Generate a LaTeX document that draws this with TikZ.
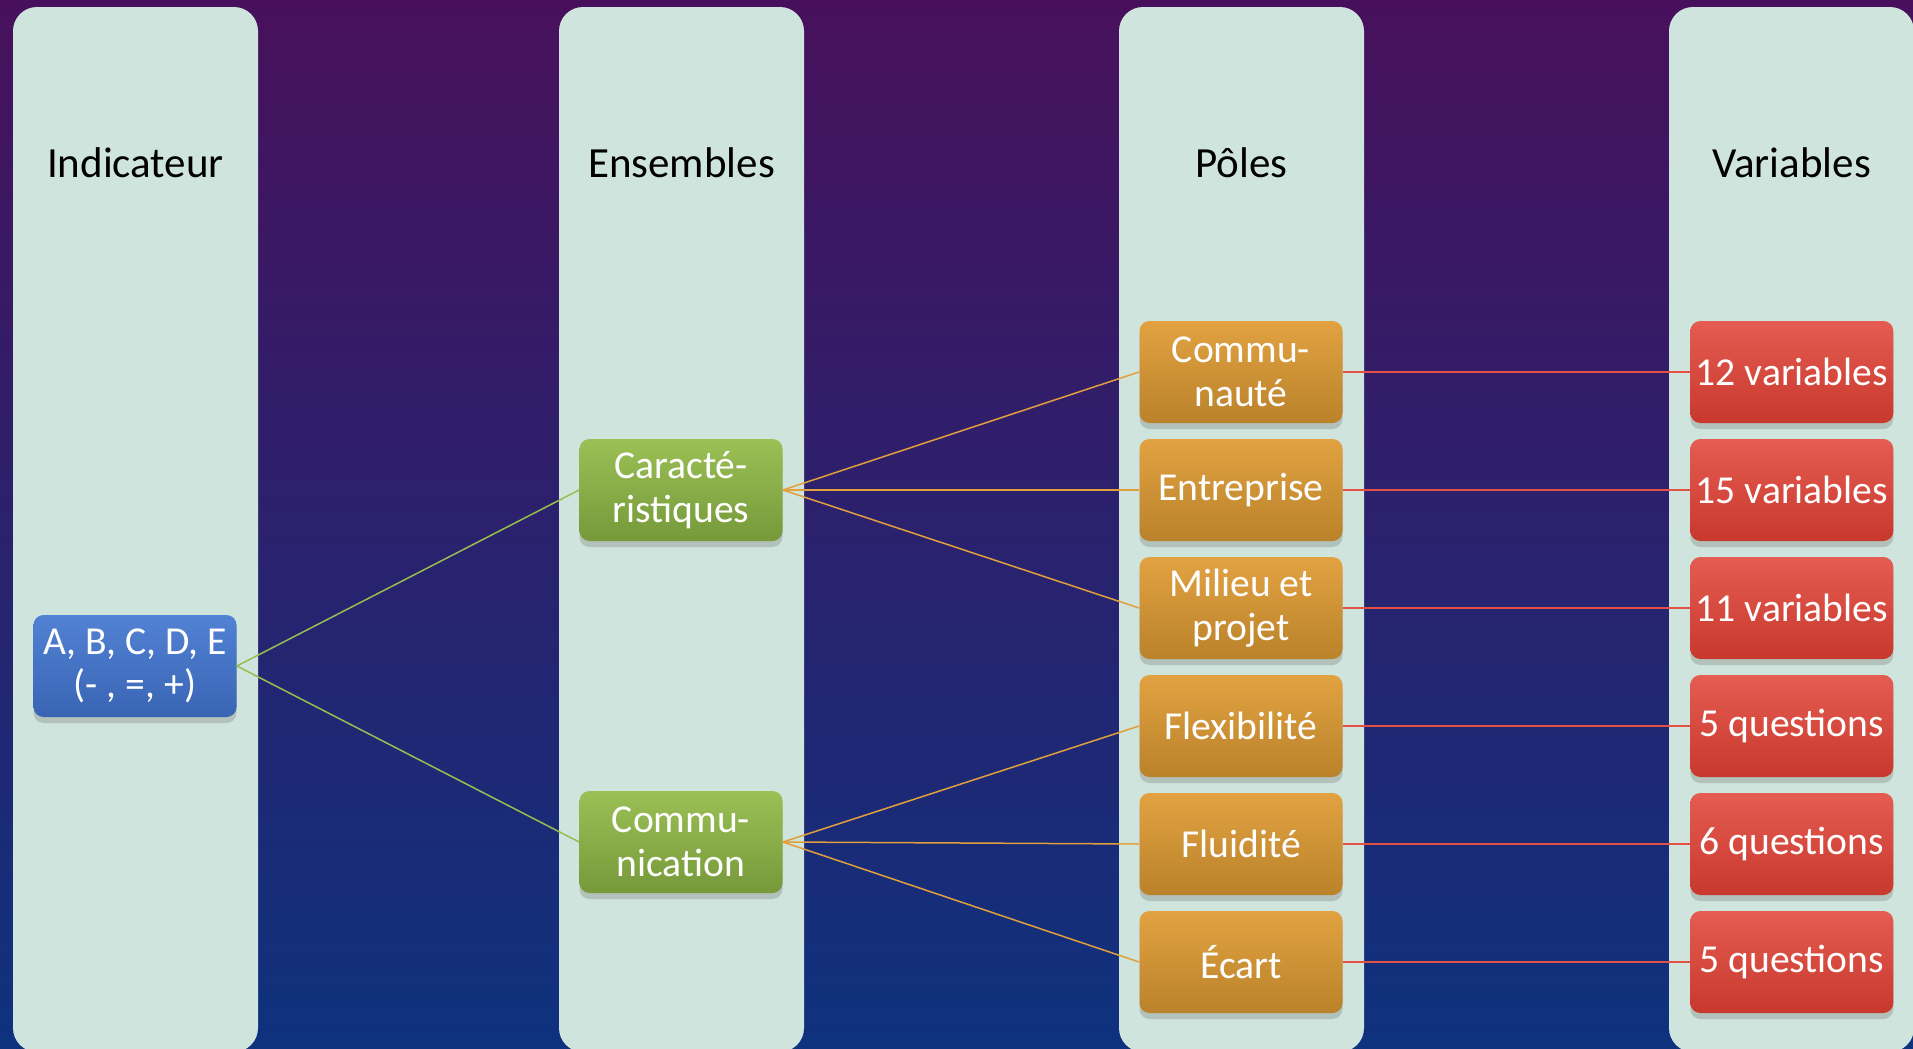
\documentclass[tikz,border=0pt]{standalone}
\usepackage{xcolor}
\usepackage{tikz}
\usepackage{fontspec}
\setmainfont{Carlito}
\usetikzlibrary{positioning, shadows}

\definecolor{bgtop}{RGB}{72,16,92}
\definecolor{bgmid}{RGB}{44,30,108}
\definecolor{bgbot}{RGB}{14,50,126}
\definecolor{colfill}{RGB}{207,228,220}
\definecolor{bluetop}{RGB}{82,130,212}
\definecolor{bluebot}{RGB}{57,100,180}
\definecolor{greentop}{RGB}{155,192,85}
\definecolor{greenbot}{RGB}{118,153,58}
\definecolor{orangetop}{RGB}{226,162,66}
\definecolor{orangebot}{RGB}{186,130,42}
\definecolor{redtop}{RGB}{229,92,82}
\definecolor{redbot}{RGB}{200,56,44}
\definecolor{gline}{RGB}{150,190,80}
\definecolor{oline}{RGB}{226,160,60}
\definecolor{rline}{RGB}{226,80,70}

\begin{document}
\begin{tikzpicture}[x=0.5pt, y=-0.5pt, node distance = 7.6pt]
  \tikzstyle{column}=[fill=colfill, rounded corners=12pt]
  \tikzstyle{title}=[font=\fontsize{21.5}{26}\selectfont, text=black]
  \tikzstyle{module}=[rounded corners=5pt, inner sep=1pt, minimum width=101.5pt, minimum height=51pt, align=center, text=white, font=\fontsize{19.8}{21.8}\selectfont, drop shadow={opacity=0.35, shadow xshift=0pt, shadow yshift=-3pt}]
  \tikzstyle{indic}=[module, top color=bluetop, bottom color=bluebot]
  \tikzstyle{ens}=[module, top color=greentop, bottom color=greenbot]
  \tikzstyle{pole}=[module, top color=orangetop, bottom color=orangebot]
  \tikzstyle{var}=[module, top color=redtop, bottom color=redbot]

  \useasboundingbox (0, 0) rectangle (1913, 1049);
  \shade[top color=bgtop, middle color=bgmid, bottom color=bgbot] (0, 0) rectangle (1913, 1049);

  % columns
  \fill[column] (13, 7) rectangle (258, 1052);
  \fill[column] (559, 7) rectangle (804, 1052);
  \fill[column] (1119, 7) rectangle (1364, 1052);
  \fill[column] (1669, 7) rectangle (1914, 1052);

  \node [title] (T-I) at (135.5, 163) {Indicateur};
  \node [title] (T-E) at (681.5, 163) {Ensembles};
  \node [title] (T-P) at (1241.5, 163) {Pôles};
  \node [title] (T-V) at (1791.5, 163) {Variables};

  \node [indic] (I) at (135, 666) {A, B, C, D, E \\ (- , =, +)};

  \node [ens] (E-A) at (681, 490) {Caracté- \\ ristiques};
  \node [ens] (E-B) at (681, 842) {Commu- \\ nication};

  \node [pole] (P-A) at (1241, 372) {Commu- \\ nauté};
  \node [pole, below = of P-A] (P-B) {Entreprise};
  \node [pole, below = of P-B] (P-C) {Milieu et \\ projet};
  \node [pole, below = of P-C] (P-D) {Flexibilité};
  \node [pole, below = of P-D] (P-E) {Fluidité};
  \node [pole, below = of P-E] (P-F) {Écart};

  \node [var, right = 173.5pt of P-A] (V-A) {12 variables};
  \node [var, right = 173.5pt of P-B] (V-B) {15 variables};
  \node [var, right = 173.5pt of P-C] (V-C) {11 variables};
  \node [var, right = 173.5pt of P-D] (V-D) {5 questions};
  \node [var, right = 173.5pt of P-E] (V-E) {6 questions};
  \node [var, right = 173.5pt of P-F] (V-F) {5 questions};

  \draw [gline, line width=.75pt] (I.east) -- (E-A.west);
  \draw [gline, line width=.75pt] (I.east) -- (E-B.west);

  \draw [oline, line width=.75pt] (E-A.east) -- (P-A.west);
  \draw [oline, line width=.75pt] (E-A.east) -- (P-B.west);
  \draw [oline, line width=.75pt] (E-A.east) -- (P-C.west);
  \draw [oline, line width=.75pt] (E-B.east) -- (P-D.west);
  \draw [oline, line width=.75pt] (E-B.east) -- (P-E.west);
  \draw [oline, line width=.75pt] (E-B.east) -- (P-F.west);

  \draw [rline, line width=1pt] (P-A) -- (V-A);
  \draw [rline, line width=1pt] (P-B) -- (V-B);
  \draw [rline, line width=1pt] (P-C) -- (V-C);
  \draw [rline, line width=1pt] (P-D) -- (V-D);
  \draw [rline, line width=1pt] (P-E) -- (V-E);
  \draw [rline, line width=1pt] (P-F) -- (V-F);
\end{tikzpicture}
\end{document}
